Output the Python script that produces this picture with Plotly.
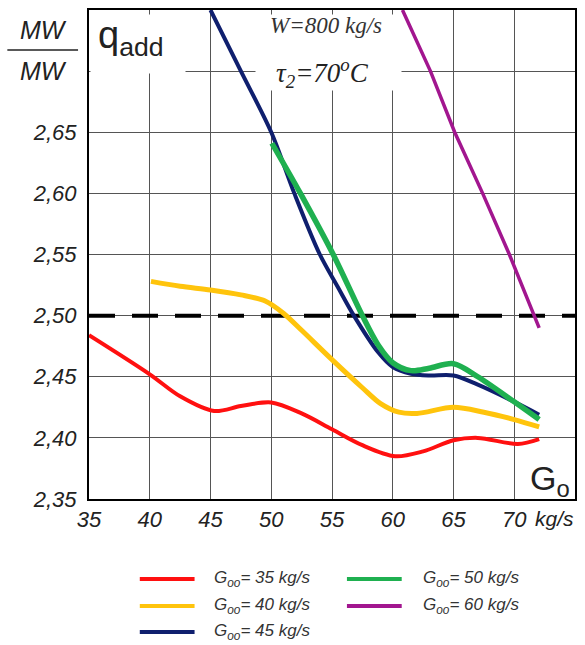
import plotly.graph_objects as go

# ---------------- data ----------------
x_tick_vals = [35, 40, 45, 50, 55, 60, 65, 70]
y_tick_vals = [2.35, 2.40, 2.45, 2.50, 2.55, 2.60, 2.65, 2.70]
y_tick_text = ["2,35", "2,40", "2,45", "2,50", "2,55", "2,60", "2,65", ""]
x_range = [35, 75]
y_range = [2.35, 2.75]
threshold = 2.50

series_labels = ["35", "40", "45", "50", "60"]
series_colors = ["#ff1010", "#ffc40c", "#0f1f6e", "#1fb050", "#a2168f"]
series_widths = [4, 5, 4, 5.5, 3.5]

g35_x = [35, 40, 42.5, 45.3, 47.5, 50, 52.5, 55, 57.5, 60.2, 62.5, 65, 67, 70.3, 72.05]
g35_y = [2.484, 2.452, 2.434, 2.422, 2.426, 2.429, 2.420, 2.407, 2.394, 2.385, 2.389, 2.398, 2.400, 2.395, 2.399]

g40_x = [40.1, 42.5, 45, 47.5, 49.5, 51, 52.5, 55, 57.5, 59, 60.5, 62, 65, 67.5, 70, 72.05]
g40_y = [2.528, 2.524, 2.521, 2.517, 2.512, 2.502, 2.488, 2.464, 2.441, 2.428, 2.421, 2.420, 2.425, 2.421, 2.415, 2.409]

g45_x = [45, 47.5, 50, 51.9, 54.0, 55.5, 56.8, 58.8, 60, 61.5, 63, 65, 67, 70, 72.05]
g45_y = [2.75, 2.70, 2.65, 2.60, 2.55, 2.523, 2.50, 2.470, 2.458, 2.4525, 2.451, 2.451, 2.4435, 2.4295, 2.419]

g50_x = [50.05, 52.4, 55.1, 57.5, 58.8, 60, 61.5, 63, 65, 67, 70, 72.05]
g50_y = [2.641, 2.60, 2.55, 2.50, 2.476, 2.4615, 2.455, 2.457, 2.4607, 2.450, 2.4295, 2.415]

g60_x = [60.8, 63.1, 65.1, 67.4, 69.6, 71.6, 72.05]
g60_y = [2.75, 2.70, 2.65, 2.60, 2.55, 2.50, 2.49]

series_x = [g35_x, g40_x, g45_x, g50_x, g60_x]
series_y = [g35_y, g40_y, g45_y, g50_y, g60_y]
series_shape = ["spline", "spline", "spline", "spline", "linear"]

# ---------------- layout helpers ----------------
W, H = 585, 645
ML, MR, MT, MB = 89, 8, 10, 146
PW, PH = W - ML - MR, H - MT - MB


def px(xp):
    return (xp - ML) / PW


def py(yp):
    return (H - MB - yp) / PH


fig = go.Figure()

# threshold dashed line (drawn first, under the curves)
fig.add_trace(go.Scatter(x=x_range, y=[threshold, threshold], mode="lines",
                         line=dict(color="black", width=4, dash="26px,17px"),
                         showlegend=False, hoverinfo="skip"))

for lab, col, wid, xs, ys, shp in zip(series_labels, series_colors, series_widths,
                                     series_x, series_y, series_shape):
    fig.add_trace(go.Scatter(
        x=xs, y=ys, mode="lines", name=f"Goo = {lab} kg/s",
        line=dict(color=col, width=wid, shape=shp, smoothing=0.9),
        showlegend=False, hoverinfo="skip"))

ann = []
sans = "Liberation Sans, Arial, sans-serif"
serif = "Liberation Serif, Times New Roman, serif"

# white boxes hiding the grid behind the texts
for (x0, x1, y0, y1) in [(91, 185, 15, 73), (257, 402, 15, 90)]:
    ann.append(dict(x=px((x0 + x1) / 2), y=py((y0 + y1) / 2), text=" ",
                    width=x1 - x0, height=y1 - y0, bgcolor="white", borderpad=0,
                    font=dict(size=10)))

# MW / MW
ann.append(dict(x=px(43), y=py(30), text="MW", font=dict(family=sans, size=25, style="italic", color="#222")))
ann.append(dict(x=px(43), y=py(71), text="MW", font=dict(family=sans, size=25, style="italic", color="#222")))
fig.add_shape(type="line", xref="paper", yref="paper", x0=px(7), x1=px(78), y0=py(50), y1=py(50),
              line=dict(color="#222", width=1.5))
# q_add
ann.append(dict(x=px(96), y=py(38), xanchor="left", text="q<sub>add</sub>",
                font=dict(family=sans, size=38, color="#222")))
# W and tau
ann.append(dict(x=px(327), y=py(25), text="W=800 kg/s",
                font=dict(family=serif, size=23, style="italic", color="#333")))
ann.append(dict(x=px(323), y=py(73), text="τ<sub>2</sub>=70<sup>o</sup>C",
                font=dict(family=serif, size=27, style="italic", color="#222")))
# G_o
ann.append(dict(x=px(552), y=py(480), text="G<sub>o</sub>",
                font=dict(family=sans, size=34, color="#222")))
# kg/s unit
ann.append(dict(x=px(556), y=py(518), text="kg/s",
                font=dict(family=sans, size=21, style="italic", color="#222")))

# manual legend
leg_cols = [(140, 195, 213), (140, 195, 213), (140, 195, 213), (348, 403, 422), (348, 403, 422)]
leg_rows = [579, 606, 632, 579, 606]
for lab, col, (lx0, lx1, tx), ry in zip(series_labels, series_colors, leg_cols, leg_rows):
    fig.add_shape(type="line", xref="paper", yref="paper", x0=px(lx0), x1=px(lx1),
                  y0=py(ry), y1=py(ry), line=dict(color=col, width=4))
    ann.append(dict(x=px(tx), y=py(ry), xanchor="left",
                    text=f"G<sub>oo</sub>= {lab} kg/s",
                    font=dict(family=sans, size=17, style="italic", color="#333")))

for a in ann:
    a.setdefault("xanchor", "center")
    a.setdefault("yanchor", "middle")
    a.update(xref="paper", yref="paper", showarrow=False)
fig.update_layout(annotations=ann)

fig.update_xaxes(range=x_range, tickvals=x_tick_vals, showgrid=True, gridcolor="#555", gridwidth=1,
                 showline=True, linecolor="black", linewidth=2, mirror=True, zeroline=False,
                 ticks="", ticklabelstandoff=0,
                 tickfont=dict(family=sans, size=22, style="italic", color="#222"))
fig.update_yaxes(range=y_range, tickvals=y_tick_vals, ticktext=y_tick_text, showgrid=True,
                 gridcolor="#555", gridwidth=1, showline=True, linecolor="black", linewidth=2,
                 mirror=True, zeroline=False, ticks="", ticklabelstandoff=6,
                 tickfont=dict(family=sans, size=22, style="italic", color="#222"))

fig.update_layout(width=W, height=H, margin=dict(l=ML, r=MR, t=MT, b=MB),
                  plot_bgcolor="white", paper_bgcolor="white", showlegend=False)

fig.write_html("out.html")
